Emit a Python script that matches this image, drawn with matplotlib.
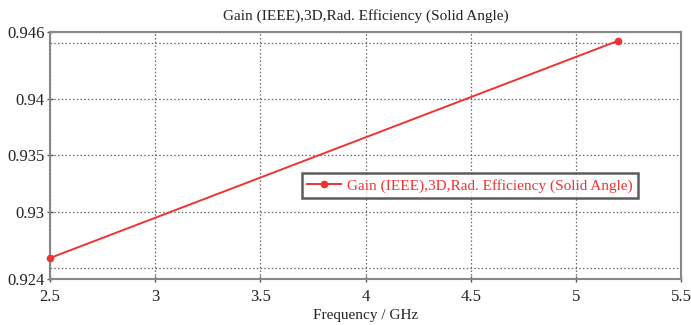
import numpy as np
import matplotlib.pyplot as plt
from matplotlib.ticker import FixedLocator

plt.rcParams['font.family'] = ['Liberation Serif', 'DejaVu Serif']

# efficiency vs frequency
freq = [2.5, 5.2]
eff = [0.92587, 0.94521]
name = "Gain (IEEE),3D,Rad. Efficiency (Solid Angle)"

xticks = [2.5, 3, 3.5, 4, 4.5, 5, 5.5]
xtick_labels = ["2.5", "3", "3.5", "4", "4.5", "5", "5.5"]
yticks = [0.924, 0.93, 0.935, 0.94, 0.946]
ytick_labels = ["0.924", "0.93", "0.935", "0.94", "0.946"]
ygrid = [0.925, 0.945]

fig = plt.figure(figsize=(6.91, 3.25), dpi=100)
ax = fig.add_axes([50/691, 1-279/325, 631/691, 247/325])

red = "#ee3333"
ax.plot(freq, eff, color=red, lw=1.4, marker="o", ms=4.5, label=name,
        clip_on=False, zorder=5)

ax.set_xlim(2.5, 5.5)
ax.set_ylim(0.924, 0.946)
ax.set_xticks(xticks)
ax.set_xticklabels(xtick_labels)
ax.set_yticks(yticks)
ax.set_yticklabels(ytick_labels)
ax.yaxis.set_minor_locator(FixedLocator(ygrid))
ax.tick_params(which="minor", length=0)
ax.tick_params(which="major", direction="inout", length=4, width=1,
               color="#555555", labelsize=12, labelcolor="#222222")
ax.tick_params(axis="x", pad=5)
ax.tick_params(axis="y", pad=2)

ax.grid(True, which="both", color="#666666", ls=(0, (1.2, 1.8)), lw=0.9)
for s in ax.spines.values():
    s.set_color("#888888")
    s.set_linewidth(1.5)

ax.set_title(name, fontsize=11, color="#222222", pad=9)
ax.set_xlabel("Frequency / GHz", fontsize=11, color="#222222", labelpad=3)

leg = ax.legend(loc="center", bbox_to_anchor=(420/631, 0.378),
                fontsize=11, frameon=True, fancybox=False,
                handlelength=2.2, borderpad=0.35, handletextpad=0.4,
                labelcolor=red)
leg.get_frame().set_edgecolor("#333333")
leg.get_frame().set_linewidth(1.8)

fig.savefig("out.png", dpi=100)
